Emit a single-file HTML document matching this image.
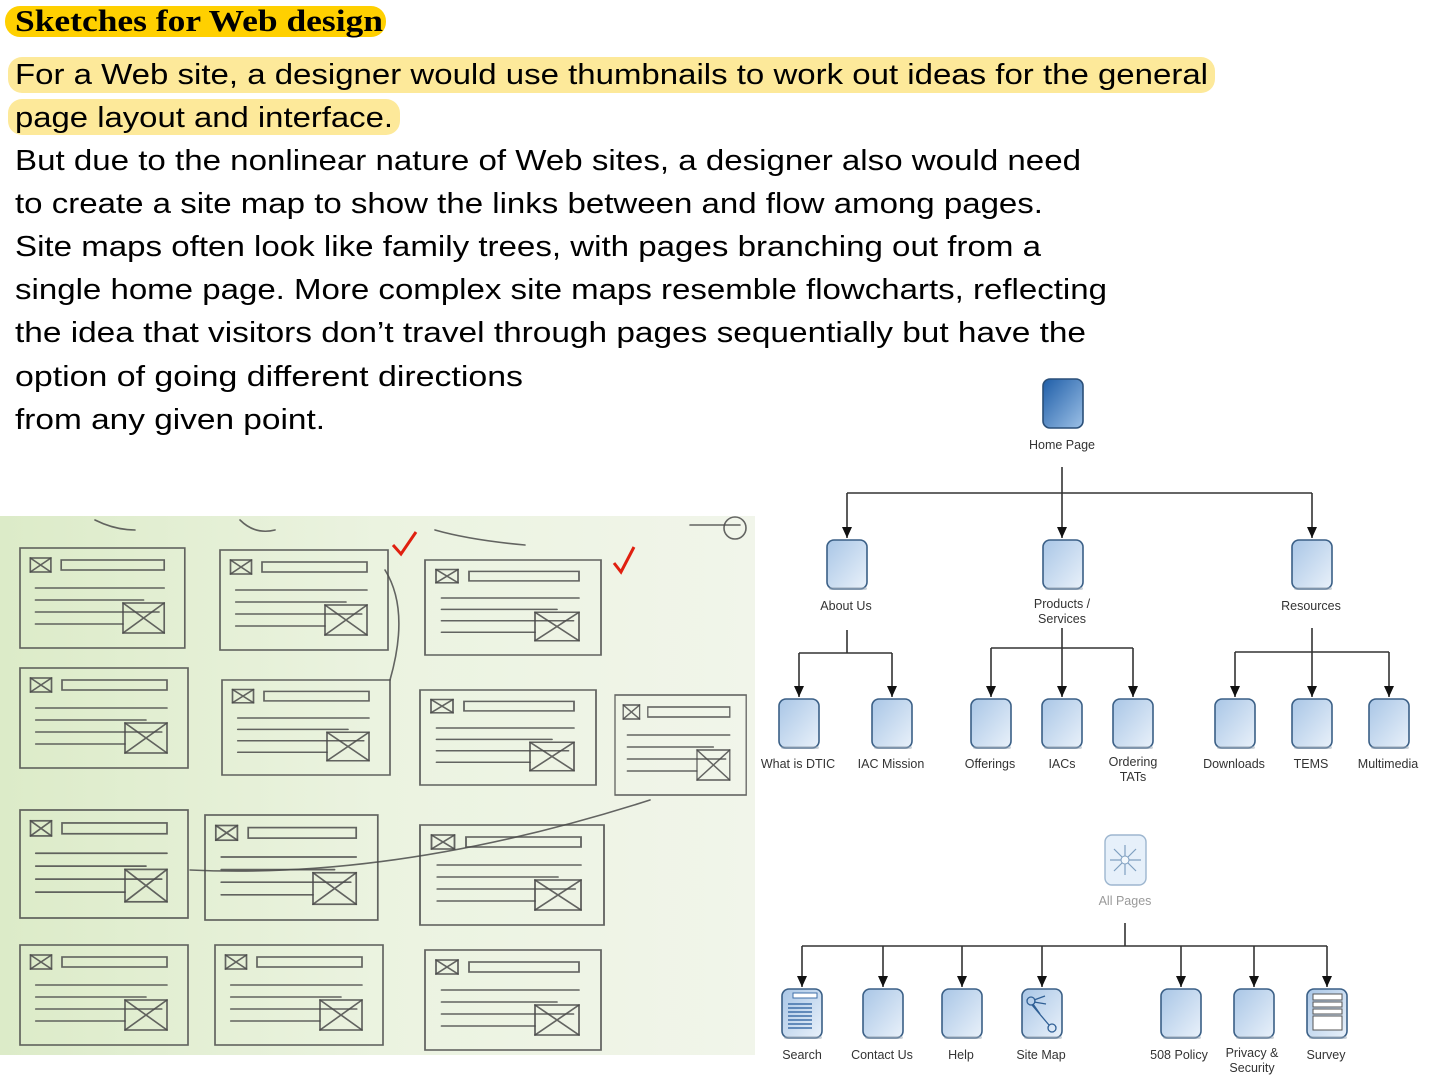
<!DOCTYPE html>
<html><head><meta charset="utf-8"><style>
html,body{margin:0;padding:0;background:#fff;}
svg{display:block}
.t{font-family:"Liberation Sans",sans-serif;font-size:29px;fill:#000}
.l{font-family:"Liberation Sans",sans-serif;font-size:12.5px;fill:#333;text-anchor:middle}
.ln{stroke:#333;stroke-width:1.6;fill:none}
.sk{stroke:#4a4a4a;stroke-width:1.6;fill:none;stroke-linecap:round;opacity:.85}
</style></head><body>
<svg width="1440" height="1080" viewBox="0 0 1440 1080" xmlns="http://www.w3.org/2000/svg">
<defs>
<linearGradient id="nb" x1="0" y1="0" x2="1" y2="1"><stop offset="0" stop-color="#a9c6e6"/><stop offset="1" stop-color="#e9f1fa"/></linearGradient>
<linearGradient id="hb" x1="0" y1="0" x2="1" y2="1"><stop offset="0" stop-color="#1f5ea8"/><stop offset="1" stop-color="#9cc0e6"/></linearGradient>
<linearGradient id="ph" x1="0" y1="0" x2="1" y2="0"><stop offset="0" stop-color="#dcebc8"/><stop offset=".5" stop-color="#ebf3e0"/><stop offset="1" stop-color="#f1f5ea"/></linearGradient>
<marker id="ar" markerWidth="12" markerHeight="12" refX="11" refY="5" orient="auto" markerUnits="userSpaceOnUse"><path d="M0,0 L11,5 L0,10 z" fill="#111"/></marker>
<g id="node"><rect x="0" y="0" width="40" height="49" rx="7" fill="url(#nb)" stroke="#3a5f86" stroke-width="1.6"/><rect x="2" y="47" width="38" height="3" rx="2" fill="#9aa7b5" opacity=".5"/></g>
<g id="pan">
<rect x="0" y="0" width="160" height="100" class="sk"/>
<rect x="10" y="10" width="20" height="14" class="sk"/><path d="M10 10 L30 24 M30 10 L10 24" class="sk"/>
<rect x="40" y="12" width="100" height="10" class="sk"/>
<path d="M15 40 H140 M15 52 H120 M15 64 H135 M15 76 H100" class="sk"/>
<rect x="100" y="55" width="40" height="30" class="sk"/><path d="M100 55 L140 85 M140 55 L100 85" class="sk"/>
</g>
</defs>

<rect x="5" y="6" width="381" height="31" rx="15" fill="#ffd000"/>
<rect x="8" y="57" width="1207" height="36" rx="14" fill="#fde99a"/>
<rect x="8" y="99" width="392" height="36" rx="14" fill="#fde99a"/>
<text x="15" y="31" font-family="Liberation Serif,serif" font-weight="bold" font-size="31" textLength="368" lengthAdjust="spacingAndGlyphs">Sketches for Web design</text>

<text class="t" x="15" y="84" textLength="1193" lengthAdjust="spacingAndGlyphs">For a Web site, a designer would use thumbnails to work out ideas for the general</text>
<text class="t" x="15" y="127" textLength="378" lengthAdjust="spacingAndGlyphs">page layout and interface.</text>
<text class="t" x="15" y="170" textLength="1066" lengthAdjust="spacingAndGlyphs">But due to the nonlinear nature of Web sites, a designer also would need</text>
<text class="t" x="15" y="213" textLength="1028" lengthAdjust="spacingAndGlyphs">to create a site map to show the links between and flow among pages.</text>
<text class="t" x="15" y="256" textLength="1026" lengthAdjust="spacingAndGlyphs">Site maps often look like family trees, with pages branching out from a</text>
<text class="t" x="15" y="299" textLength="1092" lengthAdjust="spacingAndGlyphs">single home page. More complex site maps resemble flowcharts, reflecting</text>
<text class="t" x="15" y="342" textLength="1071" lengthAdjust="spacingAndGlyphs">the idea that visitors don’t travel through pages sequentially but have the</text>
<text class="t" x="15" y="386" textLength="508" lengthAdjust="spacingAndGlyphs">option of going different directions</text>
<text class="t" x="15" y="429" textLength="310" lengthAdjust="spacingAndGlyphs">from any given point.</text>

<rect x="0" y="516" width="755" height="539" fill="url(#ph)"/>
<g>
<use href="#pan" transform="translate(20,548) scale(1.03,1.0)"/>
<use href="#pan" transform="translate(220,550) scale(1.05,1.0)"/>
<use href="#pan" transform="translate(425,560) scale(1.1,0.95)"/>
<use href="#pan" transform="translate(20,668) scale(1.05,1.0)"/>
<use href="#pan" transform="translate(222,680) scale(1.05,0.95)"/>
<use href="#pan" transform="translate(420,690) scale(1.1,0.95)"/>
<use href="#pan" transform="translate(615,695) scale(0.82,1.0)"/>
<use href="#pan" transform="translate(20,810) scale(1.05,1.08)"/>
<use href="#pan" transform="translate(205,815) scale(1.08,1.05)"/>
<use href="#pan" transform="translate(420,825) scale(1.15,1.0)"/>
<use href="#pan" transform="translate(20,945) scale(1.05,1.0)"/>
<use href="#pan" transform="translate(215,945) scale(1.05,1.0)"/>
<use href="#pan" transform="translate(425,950) scale(1.1,1.0)"/>
<path d="M95 520 Q115 530 135 530 M240 520 Q255 535 275 530 M435 530 Q470 540 525 545 M690 525 H740" class="sk"/>
<circle cx="735" cy="528" r="11" class="sk"/>
<path d="M393 545 L401 554 L416 532" stroke="#e02010" stroke-width="3" fill="none"/>
<path d="M614 563 L621 572 L634 547" stroke="#e02010" stroke-width="3" fill="none"/>
<path d="M385 570 Q410 610 390 680 M190 870 Q400 880 650 800" class="sk"/>
</g>

<rect x="1043" y="379" width="40" height="49" rx="7" fill="url(#hb)" stroke="#2a4f78" stroke-width="1.6"/>
<text class="l" x="1062" y="449">Home Page</text>
<path class="ln" d="M847 493 H1312"/>
<path class="ln" d="M847 493 V538" marker-end="url(#ar)"/>
<path class="ln" d="M1062 467 V538" marker-end="url(#ar)"/>
<path class="ln" d="M1312 493 V538" marker-end="url(#ar)"/>
<use href="#node" transform="translate(827,540)"/>
<use href="#node" transform="translate(1043,540)"/>
<use href="#node" transform="translate(1292,540)"/>
<text class="l" x="846" y="610">About Us</text>
<text class="l" x="1062" y="608">Products /</text>
<text class="l" x="1062" y="623">Services</text>
<text class="l" x="1311" y="610">Resources</text>

<path class="ln" d="M847 630 V653 M799 653 H892"/>
<path class="ln" d="M799 653 V697" marker-end="url(#ar)"/>
<path class="ln" d="M892 653 V697" marker-end="url(#ar)"/>
<path class="ln" d="M991 648 H1133"/>
<path class="ln" d="M1062 628 V697" marker-end="url(#ar)"/>
<path class="ln" d="M991 648 V697" marker-end="url(#ar)"/>
<path class="ln" d="M1133 648 V697" marker-end="url(#ar)"/>
<path class="ln" d="M1235 652 H1389"/>
<path class="ln" d="M1312 628 V697" marker-end="url(#ar)"/>
<path class="ln" d="M1235 652 V697" marker-end="url(#ar)"/>
<path class="ln" d="M1389 652 V697" marker-end="url(#ar)"/>

<use href="#node" transform="translate(779,699)"/>
<use href="#node" transform="translate(872,699)"/>
<use href="#node" transform="translate(971,699)"/>
<use href="#node" transform="translate(1042,699)"/>
<use href="#node" transform="translate(1113,699)"/>
<use href="#node" transform="translate(1215,699)"/>
<use href="#node" transform="translate(1292,699)"/>
<use href="#node" transform="translate(1369,699)"/>
<text class="l" x="798" y="768">What is DTIC</text>
<text class="l" x="891" y="768">IAC Mission</text>
<text class="l" x="990" y="768">Offerings</text>
<text class="l" x="1062" y="768">IACs</text>
<text class="l" x="1133" y="766">Ordering</text>
<text class="l" x="1133" y="781">TATs</text>
<text class="l" x="1234" y="768">Downloads</text>
<text class="l" x="1311" y="768">TEMS</text>
<text class="l" x="1388" y="768">Multimedia</text>

<rect x="1105" y="835" width="41" height="50" rx="7" fill="#e6f0fa" stroke="#9db6cf" stroke-width="1.4"/>
<g stroke="#7f9fc0" stroke-width="1.2"><path d="M1125 845 V875 M1110 860 H1141 M1114 849 L1136 871 M1136 849 L1114 871"/></g>
<circle cx="1125" cy="860" r="4" fill="#f3f8fc" stroke="#7f9fc0"/>
<text class="l" x="1125" y="905" style="fill:#9a9a9a">All Pages</text>
<path class="ln" d="M1125 923 V946 M802 946 H1327"/>
<path class="ln" d="M802 946 V987" marker-end="url(#ar)"/>
<path class="ln" d="M883 946 V987" marker-end="url(#ar)"/>
<path class="ln" d="M962 946 V987" marker-end="url(#ar)"/>
<path class="ln" d="M1042 946 V987" marker-end="url(#ar)"/>
<path class="ln" d="M1181 946 V987" marker-end="url(#ar)"/>
<path class="ln" d="M1254 946 V987" marker-end="url(#ar)"/>
<path class="ln" d="M1327 946 V987" marker-end="url(#ar)"/>
<use href="#node" transform="translate(782,989)"/>
<use href="#node" transform="translate(863,989)"/>
<use href="#node" transform="translate(942,989)"/>
<use href="#node" transform="translate(1022,989)"/>
<use href="#node" transform="translate(1161,989)"/>
<use href="#node" transform="translate(1234,989)"/>
<use href="#node" transform="translate(1307,989)"/>
<g stroke="#3f6fa8" stroke-width="1.5"><path d="M788 1004 H812 M788 1008 H812 M788 1012 H812 M788 1016 H812 M788 1020 H812 M788 1024 H812 M788 1028 H812"/></g>
<rect x="793" y="993" width="24" height="5" fill="#fff" stroke="#3f6fa8"/>
<g stroke="#2f5f95" stroke-width="1.3" fill="none"><circle cx="1031" cy="1001" r="4"/><circle cx="1052" cy="1028" r="4"/><path d="M1034 1000 L1045 996 M1034 1002 L1046 1004 M1033 1004 L1040 1014 M1032 1005 L1049 1025"/></g>
<g fill="#fff" stroke="#555" stroke-width="1"><rect x="1313" y="994" width="29" height="6"/><rect x="1313" y="1002" width="29" height="5"/><rect x="1313" y="1009" width="29" height="5"/><rect x="1313" y="1016" width="29" height="14"/></g>
<text class="l" x="802" y="1059">Search</text>
<text class="l" x="882" y="1059">Contact Us</text>
<text class="l" x="961" y="1059">Help</text>
<text class="l" x="1041" y="1059">Site Map</text>
<text class="l" x="1179" y="1059">508 Policy</text>
<text class="l" x="1252" y="1057">Privacy &amp;</text>
<text class="l" x="1252" y="1072">Security</text>
<text class="l" x="1326" y="1059">Survey</text>
</svg>
</body></html>
